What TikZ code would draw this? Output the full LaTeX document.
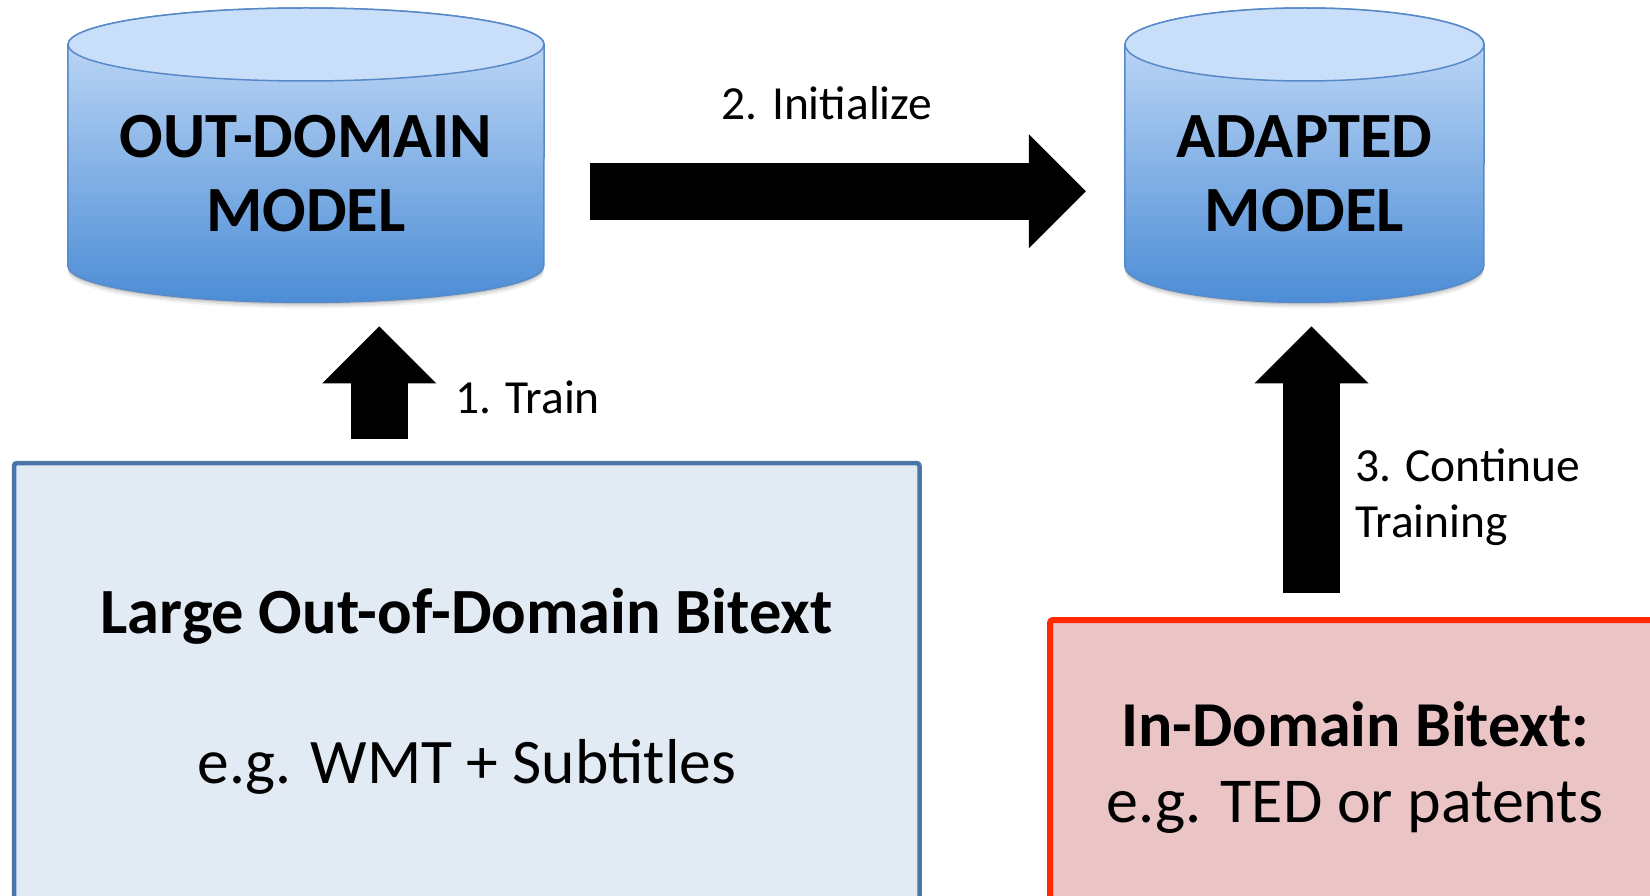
\documentclass[tikz,border=0pt]{standalone}
\usepackage{fontspec}
\setmainfont{Carlito}
\usepackage{xcolor}
\usetikzlibrary{arrows.meta,calc,positioning,backgrounds}
\definecolor{drumtop}{RGB}{201,222,249}
\definecolor{drumdark}{RGB}{76,141,214}
\definecolor{drumline}{RGB}{88,137,200}
\definecolor{outblue}{RGB}{75,119,168}
\definecolor{outfill}{RGB}{226,234,244}
\definecolor{inred}{RGB}{255,40,0}
\definecolor{infill}{RGB}{235,197,197}
\tikzset{
  model/.style={minimum height=294pt,inner sep=0pt,align=center,
    text height=152pt,text depth=0pt,
    font=\bfseries\fontsize{64.5}{74}\selectfont},
  corpus/.style={rounded corners=3pt,align=center,inner sep=0pt,outer sep=0pt},
  bigarrow/.style={line width=57pt,
    -{Triangle[length=57pt,width=114pt,line width=0pt]}},
  steplabel/.style={font=\fontsize{47.5}{56}\selectfont,inner sep=0pt,align=left}
}
% drum drawn behind a model node: #1 node, #2 half width
\newcommand{\drum}[2]{%
  \foreach \s/\o in {30.5/0.05,32.5/0.08,34.5/0.12,36.5/0.16}
    \fill[black,opacity=\o] ([yshift=\s pt]#1.south west)
      arc[start angle=180,end angle=360,x radius=#2pt,y radius=36.5pt] -- cycle;
  \path[top color=drumtop,bottom color=drumdark,draw=drumline,line width=1.5pt]
    ([yshift=-36.5pt]#1.north west) -- ([yshift=36.5pt]#1.south west)
    arc[start angle=180,end angle=360,x radius=#2pt,y radius=36.5pt]
    -- ([yshift=-36.5pt]#1.north east)
    arc[start angle=0,end angle=180,x radius=#2pt,y radius=36.5pt] -- cycle;
  \fill[drumtop,draw=drumline,line width=1.5pt] ([yshift=-36.5pt]#1.north)
    ellipse[x radius=#2pt,y radius=36.5pt];
}

\begin{document}
\begin{tikzpicture}[x=1pt,y=-1pt]
  \useasboundingbox (0,0) rectangle (1650,896);
  % models
  \node[model,minimum width=476pt,anchor=north] (outmodel) at (306,8)
    {OUT-DOMAIN\\MODEL};
  \node[model,minimum width=359pt,anchor=north] (adapted) at (1304.5,8)
    {ADAPTED\\MODEL};
  \begin{scope}[on background layer]
    \drum{outmodel}{238}
    \drum{adapted}{179.5}
  \end{scope}
  % corpora
  \node[corpus,draw=outblue,fill=outfill,line width=4.5pt,
    minimum width=905.5pt,minimum height=457pt,anchor=north west,
    font=\fontsize{63.5}{78}\selectfont] (outdata) at (14,463)
    {{\bfseries\fontsize{64.5}{78}\selectfont Large Out-of-Domain Bitext}\\[72pt]
     e.g. WMT + Subtitles};
  \node[corpus,draw=inred,fill=infill,line width=6pt,
    minimum width=610pt,minimum height=296pt,anchor=north west,
    font=\fontsize{64}{76}\selectfont] (indata) at (1050,620)
    {{\bfseries\fontsize{64}{76}\selectfont In-Domain Bitext:}\\
     e.g. TED or patents};
  % steps
  \draw[bigarrow,shorten <=24pt,shorten >=24pt]
    ([xshift=-87.5pt]outdata.north) -- ([xshift=-87.5pt]outdata.north |- outmodel.south);
  \node[steplabel,anchor=base west] (trainlbl) at (455,413) {1. Train};
  \draw[bigarrow,shorten <=46pt,shorten >=39pt]
    ([yshift=-36pt]outmodel.east) -- ([yshift=-36pt]adapted.west)
    node[midway,steplabel,anchor=base,xshift=-7.5pt,yshift=72pt] (initlbl)
    {2. Initialize};
  \draw[bigarrow,shorten <=27pt,shorten >=24pt]
    ([xshift=7pt]adapted.south |- indata.north) -- ([xshift=7pt]adapted.south);
  \node[steplabel,anchor=base west] (contlbl) at (1355,537)
    {3. Continue\\Training};
\end{tikzpicture}
\end{document}
